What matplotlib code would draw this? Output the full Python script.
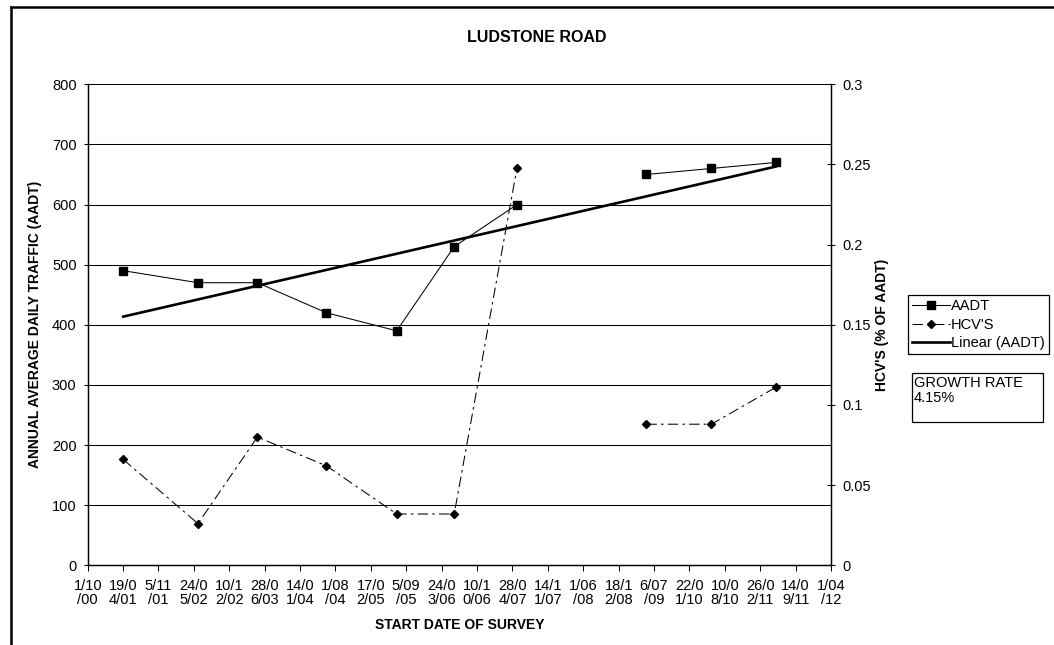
import numpy as np
import pandas as pd
import matplotlib
matplotlib.use('Agg')
import matplotlib.pyplot as plt
import matplotlib.dates as mdates
from matplotlib.lines import Line2D
from matplotlib.patches import Rectangle

plt.rcParams['font.family'] = ['Liberation Sans', 'DejaVu Sans']
plt.rcParams['font.size'] = 10.5

# survey start dates (the 2008 entry has no count, so the lines break there)
survey_dates = ['20/04/01', '16/06/02', '18/05/03', '11/06/04', '13/07/05', '03/06/06',
                '24/05/07', '24/05/08', '24/05/09', '26/05/10', '25/05/11']
aadt = [490, 470, 470, 420, 390, 530, 600, np.nan, 650, 660, 670]
hcv = [0.066, 0.026, 0.080, 0.062, 0.032, 0.032, 0.248, np.nan, 0.088, 0.088, 0.111]

tick_dates = ['1/10/00', '19/04/01', '5/11/01', '24/05/02', '10/12/02', '28/06/03',
              '14/01/04', '1/08/04', '17/02/05', '5/09/05', '24/03/06', '10/10/06',
              '28/04/07', '14/11/07', '1/06/08', '18/12/08', '6/07/09', '22/01/10',
              '10/08/10', '26/02/11', '14/09/11', '1/04/12']
aadt_ticks = [0, 100, 200, 300, 400, 500, 600, 700, 800]
hcv_ticks = [0, 0.05, 0.1, 0.15, 0.2, 0.25, 0.3]
growth_rate = '4.15%'

dates = pd.to_datetime(survey_dates, format='%d/%m/%y')
tdates = pd.to_datetime(tick_dates, format='%d/%m/%y')
aadt = np.array(aadt, dtype=float)
hcv = np.array(hcv, dtype=float)

# linear trend of AADT against date (like the excel trendline)
xnum = mdates.date2num(dates)
ok = ~np.isnan(aadt)
coef = np.polyfit(xnum[ok], aadt[ok], 1)
trend = np.polyval(coef, xnum[ok])

fig = plt.figure(figsize=(10.54, 6.45), dpi=100)
W, H = 1054, 645
ax = fig.add_axes([87.7 / W, 1 - 565.3 / H, (831 - 87.7) / W, (565.3 - 84.3) / H])
ax2 = ax.twinx()

for y in aadt_ticks[1:]:
    ax.axhline(y, color='black', lw=0.75, zorder=0)

ax.plot(dates, aadt, color='black', lw=0.75, marker='s', ms=5.2, label='AADT', zorder=3)
ax2.plot(dates, hcv, color='black', lw=0.75, dashes=(10, 4, 2.5, 4), marker='D', ms=4.2,
         label="HCV'S", zorder=3)
ax.plot(dates[ok], trend, color='black', lw=1.9, label='Linear (AADT)', zorder=2)

ax.set_xlim(tdates[0], tdates[-1])
ax.set_ylim(0, 800)
ax2.set_ylim(0, 0.3)
ax.set_xticks(tdates)
ax.set_xticklabels([s[:4] + '\n' + s[4:] for s in tick_dates], linespacing=1.0)
ax.set_yticks(aadt_ticks)
ax2.set_yticks(hcv_ticks)
ax2.set_yticklabels([f'{v:g}' for v in hcv_ticks])

ax.tick_params(axis='y', direction='out', length=3, width=0.75, pad=5)
ax.tick_params(axis='x', direction='out', length=4, width=0.75, pad=6)
ax2.tick_params(axis='y', direction='inout', length=6, width=0.75, pad=5)
for a in (ax, ax2):
    a.spines['top'].set_visible(False)
    for s in a.spines.values():
        s.set_linewidth(0.9)
        s.set_color('black')

ax.set_xlabel('START DATE OF SURVEY', fontweight='bold', fontsize=10, labelpad=8)
ax.set_ylabel('ANNUAL AVERAGE DAILY TRAFFIC (AADT)', fontweight='bold', fontsize=10,
              labelpad=7)
ax2.set_ylabel("HCV'S (% OF AADT)", fontweight='bold', fontsize=10, labelpad=3)
fig.text(537 / W, 1 - 38 / H, 'LUDSTONE ROAD', fontweight='bold', fontsize=11.5,
         ha='center', va='center')

h1, l1 = ax.get_legend_handles_labels()
h2, l2 = ax2.get_legend_handles_labels()
handles = [h1[0], h2[0], h1[1]]
labels = [l1[0], l2[0], l1[1]]
leg = fig.legend(handles, labels, loc='upper left', bbox_to_anchor=(908 / W, 1 - 295 / H),
                 borderaxespad=0, fancybox=False, framealpha=1, edgecolor='black',
                 handlelength=2.6, handletextpad=0.05, labelspacing=0.3, borderpad=0.3,
                 fontsize=10.5)
leg.get_frame().set_linewidth(0.9)

fig.add_artist(Rectangle((912 / W, 1 - 422 / H), (1043 - 912) / W, (422 - 373) / H,
                         transform=fig.transFigure, fill=False, lw=0.9, ec='black'))
fig.text(914 / W, 1 - 376 / H, 'GROWTH RATE\n' + growth_rate, ha='left', va='top',
         fontsize=10.5, linespacing=1.1)

# chart area border (cut off at right and bottom)
fig.add_artist(Line2D([10.5 / W, 10.5 / W], [0, 1 - 7 / H], transform=fig.transFigure,
                      color='black', lw=1.8))
fig.add_artist(Line2D([10.5 / W, 1], [1 - 7 / H, 1 - 7 / H], transform=fig.transFigure,
                      color='black', lw=1.8))

fig.savefig('out.png', dpi=100)
